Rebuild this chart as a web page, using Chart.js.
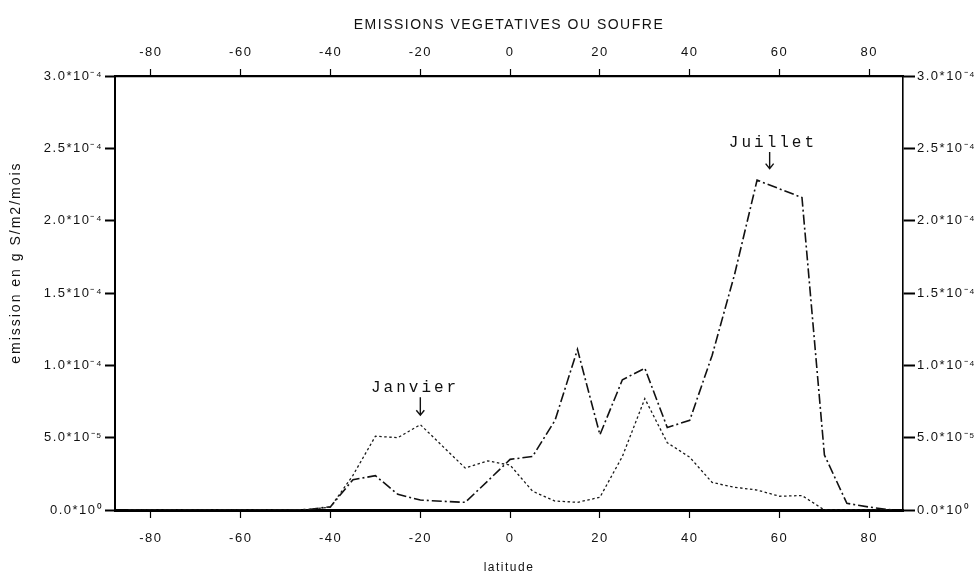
<!DOCTYPE html>
<html>
<head>
<meta charset="utf-8">
<script src="https://cdn.jsdelivr.net/npm/chart.js@4"></script>
<style>
  html, body { margin: 0; padding: 0; background: #fff; }
  canvas { display: block; }
</style>
</head>
<body>
<canvas id="c" width="980" height="577"></canvas>
<script>
// Latitude bands (degrees) and monthly vegetative sulphur emission (g S/m2/mois)
const latitude = [-85, -80, -75, -70, -65, -60, -55, -50, -45, -40, -35, -30, -25, -20, -15, -10, -5, 0,
                  5, 10, 15, 20, 25, 30, 35, 40, 45, 50, 55, 60, 65, 70, 75, 80, 85];

const janvier = [0, 0, 0, 0, 0, 0, 0, 0, 0.003e-4, 0.02e-4, 0.24e-4, 0.51e-4, 0.50e-4, 0.59e-4, 0.44e-4, 0.29e-4, 0.34e-4, 0.31e-4,
                 0.13e-4, 0.062e-4, 0.053e-4, 0.088e-4, 0.37e-4, 0.77e-4, 0.465e-4, 0.365e-4, 0.19e-4, 0.157e-4, 0.138e-4, 0.095e-4, 0.10e-4, 0, 0, 0, 0];

const juillet = [0, 0, 0, 0, 0, 0, 0, 0, 0.003e-4, 0.023e-4, 0.21e-4, 0.237e-4, 0.108e-4, 0.069e-4, 0.06e-4, 0.053e-4, 0.20e-4, 0.35e-4,
                 0.37e-4, 0.62e-4, 1.11e-4, 0.52e-4, 0.90e-4, 0.98e-4, 0.57e-4, 0.62e-4, 1.07e-4, 1.63e-4, 2.28e-4, 2.22e-4, 2.16e-4, 0.38e-4, 0.046e-4, 0.02e-4, 0];

const latTicks = [-80, -60, -40, -20, 0, 20, 40, 60, 80];
const emissionTicks = [0, 0.5e-4, 1.0e-4, 1.5e-4, 2.0e-4, 2.5e-4, 3.0e-4];
const emissionTickLabels = ['0.0*10⁰', '5.0*10⁻⁵', '1.0*10⁻⁴', '1.5*10⁻⁴', '2.0*10⁻⁴', '2.5*10⁻⁴', '3.0*10⁻⁴'];

const SANS = "'Liberation Sans', Arial, sans-serif";
const MONO = "'Liberation Mono', 'Courier New', monospace";

const toPoints = vals => latitude.map((lat, i) => ({ x: lat, y: vals[i] }));

// Wide, typewriter-like spacing for every label on the canvas
const spacing = {
  id: 'spacing',
  beforeDraw(chart) { chart.ctx.letterSpacing = '1.5px'; },
  afterDraw(chart) { chart.ctx.letterSpacing = '0px'; }
};

// Vertical unit caption beside the left axis, sitting a little above its middle
const unitCaption = {
  id: 'unitCaption',
  afterDraw(chart) {
    const { ctx, chartArea } = chart;
    ctx.save();
    ctx.translate(16, chartArea.top + (chartArea.bottom - chartArea.top) * 0.43);
    ctx.rotate(-Math.PI / 2);
    ctx.font = '14px ' + SANS;
    ctx.letterSpacing = '2px';
    ctx.fillStyle = '#111';
    ctx.textAlign = 'center';
    ctx.textBaseline = 'middle';
    ctx.fillText('emission en g S/m2/mois', 0, 0);
    ctx.restore();
  }
};

// Month labels with arrows pointing at each curve's peak
const notes = [
  { text: 'Janvier', lat: -21.5, val: 0.843e-4, arrowLat: -20, from: 0.78e-4, to: 0.655e-4 },
  { text: 'Juillet', lat: 58.2, val: 2.537e-4, arrowLat: 57.8, from: 2.475e-4, to: 2.36e-4 }
];
const monthLabels = {
  id: 'monthLabels',
  afterDatasetsDraw(chart) {
    const { ctx, scales: { x, y } } = chart;
    ctx.save();
    ctx.fillStyle = '#111';
    ctx.strokeStyle = '#111';
    ctx.font = '16px ' + MONO;
    ctx.letterSpacing = '3px';
    ctx.textAlign = 'center';
    ctx.textBaseline = 'middle';
    notes.forEach(n => {
      ctx.fillText(n.text, x.getPixelForValue(n.lat) + 1.5, y.getPixelForValue(n.val));
      const ax = x.getPixelForValue(n.arrowLat);
      const y0 = y.getPixelForValue(n.from);
      const y1 = y.getPixelForValue(n.to);
      ctx.lineWidth = 1.4;
      ctx.beginPath();
      ctx.moveTo(ax, y0);
      ctx.lineTo(ax, y1);
      ctx.moveTo(ax - 4, y1 - 5);
      ctx.lineTo(ax, y1);
      ctx.lineTo(ax + 4, y1 - 5);
      ctx.stroke();
    });
    ctx.restore();
  }
};

const tickFont = { family: SANS, size: 13 };
const setTicks = values => scale => { scale.ticks = values.map(v => ({ value: v })); };

new Chart(document.getElementById('c'), {
  type: 'line',
  data: {
    datasets: [
      {
        label: 'Janvier',
        data: toPoints(janvier),
        borderColor: '#1a1a1a',
        borderWidth: 1.3,
        borderDash: [2.5, 2.5],
        pointRadius: 0,
        tension: 0,
        xAxisID: 'x',
        yAxisID: 'y'
      },
      {
        label: 'Juillet',
        data: toPoints(juillet),
        borderColor: '#111',
        borderWidth: 1.6,
        borderDash: [10, 3, 2, 3],
        pointRadius: 0,
        tension: 0,
        xAxisID: 'x',
        yAxisID: 'y'
      }
    ]
  },
  options: {
    responsive: false,
    animation: false,
    events: [],
    layout: { padding: 0 },
    plugins: { legend: { display: false }, tooltip: { enabled: false }, title: { display: false } },
    scales: {
      x: {
        type: 'linear', position: 'bottom', min: -88, max: 87.5,
        afterBuildTicks: setTicks(latTicks),
        afterFit: s => { s.height = 67; },
        border: { display: true, color: '#000', width: 3 },
        grid: { drawOnChartArea: false, drawTicks: true, tickLength: 8, tickWidth: 1.2, tickColor: '#000' },
        ticks: { font: tickFont, color: '#111', padding: 13, maxRotation: 0, callback: v => String(v) },
        title: { display: true, text: 'latitude', color: '#111', font: { family: SANS, size: 12 }, padding: { top: 0, bottom: 2 } }
      },
      x2: {
        type: 'linear', position: 'top', min: -88, max: 87.5,
        afterBuildTicks: setTicks(latTicks),
        afterFit: s => { s.height = 76; },
        border: { display: true, color: '#000', width: 2.2 },
        grid: { drawOnChartArea: false, drawTicks: true, tickLength: 7, tickWidth: 1.2, tickColor: '#000' },
        ticks: { font: tickFont, color: '#111', padding: 9, maxRotation: 0, callback: v => String(v) },
        title: { display: true, text: 'EMISSIONS VEGETATIVES OU SOUFRE', color: '#111', font: { family: SANS, size: 14 }, padding: { top: 17, bottom: 0 } }
      },
      y: {
        type: 'linear', position: 'left', min: 0, max: 3e-4,
        afterBuildTicks: setTicks(emissionTicks),
        afterFit: s => { s.width = 115; },
        border: { display: true, color: '#000', width: 2 },
        grid: { drawOnChartArea: false, drawTicks: true, tickLength: 10, tickWidth: 2, tickColor: '#000' },
        ticks: { font: tickFont, color: '#111', padding: 2, callback: (v, i) => emissionTickLabels[i] }
      },
      y2: {
        type: 'linear', position: 'right', min: 0, max: 3e-4,
        afterBuildTicks: setTicks(emissionTicks),
        afterFit: s => { s.width = 77; },
        border: { display: true, color: '#000', width: 1.6 },
        grid: { drawOnChartArea: false, drawTicks: true, tickLength: 12, tickWidth: 2, tickColor: '#000' },
        ticks: { font: tickFont, color: '#111', padding: 2, callback: (v, i) => emissionTickLabels[i] }
      }
    }
  },
  plugins: [spacing, unitCaption, monthLabels]
});
</script>
</body>
</html>
